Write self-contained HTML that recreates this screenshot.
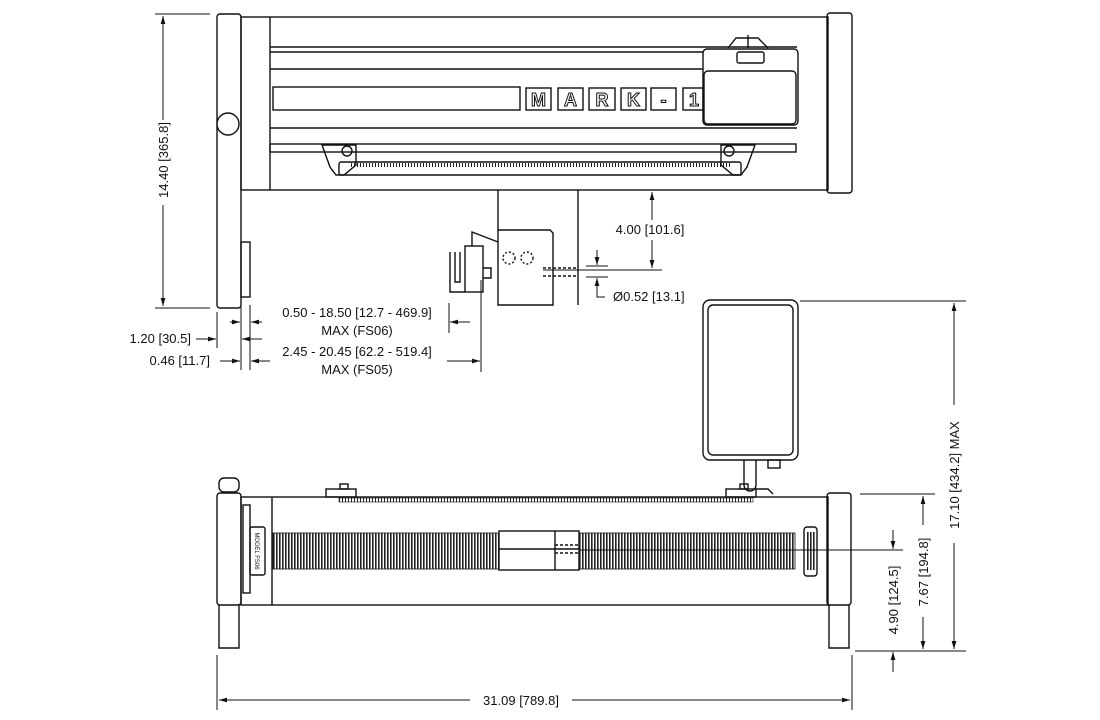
<!DOCTYPE html>
<html><head><meta charset="utf-8"><style>
html,body{margin:0;padding:0;background:#fff}
svg{display:block}
text{font-family:"Liberation Sans",Arial,sans-serif;font-size:13px;fill:#111}
.mk{font-size:18px;font-weight:bold;fill:#fff;stroke:#111;stroke-width:1}
</style></head><body>
<svg width="1100" height="720" viewBox="0 0 1100 720" xmlns="http://www.w3.org/2000/svg">
<defs>
<marker id="a" viewBox="0 0 10 10" refX="10" refY="5" markerWidth="8" markerHeight="8" orient="auto-start-reverse"><path d="M0,2 L10,5 L0,8z" fill="#111"/></marker>
<pattern id="rib" width="3" height="10" patternUnits="userSpaceOnUse"><rect width="3" height="10" fill="#fff"/><rect width="1.6" height="10" fill="#222"/></pattern>
<pattern id="tick" width="3" height="4" patternUnits="userSpaceOnUse"><rect width="1" height="4" fill="#222"/></pattern>
</defs>
<g fill="none" stroke="#111" stroke-width="1.4">
<!-- TOP VIEW -->
<rect x="217" y="14" width="24" height="294" rx="3"/>
<circle cx="228" cy="124" r="11" fill="#fff"/>
<rect x="241" y="242" width="9" height="55"/>
<rect x="241" y="17" width="587" height="173"/>
<line x1="270" y1="17" x2="270" y2="190"/>
<rect x="827" y="13" width="25" height="180" rx="3"/>
<line x1="270" y1="47" x2="797" y2="47"/>
<line x1="270" y1="52" x2="797" y2="52"/>
<line x1="270" y1="69" x2="703" y2="69"/>
<line x1="270" y1="128" x2="797" y2="128"/>
<rect x="273" y="87" width="247" height="23"/>
<rect x="526" y="88" width="25" height="22"/><rect x="558" y="88" width="25" height="22"/><rect x="589" y="88" width="26" height="22"/><rect x="621" y="88" width="25" height="22"/><rect x="651" y="88" width="25" height="22"/><rect x="683" y="88" width="20" height="22"/>
<rect x="270" y="144" width="526" height="8"/>
<rect x="339" y="162" width="402" height="13" rx="2"/>
<rect x="350" y="163" width="380" height="4" fill="url(#tick)" stroke="none"/>
<path d="M322,145 h34 v20 l-12,10 h-8 l-6,-8 z"/><circle cx="347" cy="151" r="5"/>
<path d="M755,145 h-34 v20 l12,10 h8 l6,-8 z"/><circle cx="729" cy="151" r="5"/>
</g>
<g class="mk">
<text class="mk" x="538.5" y="106" text-anchor="middle">M</text>
<text class="mk" x="570.5" y="106" text-anchor="middle">A</text>
<text class="mk" x="602" y="106" text-anchor="middle">R</text>
<text class="mk" x="633.5" y="106" text-anchor="middle">K</text>
<text class="mk" x="663.5" y="106" text-anchor="middle">-</text>
<text class="mk" x="694" y="106" text-anchor="middle">1</text>
</g>
<g fill="none" stroke="#111" stroke-width="1.4">
<rect x="703" y="49" width="95" height="76" rx="4" fill="#fff"/>
<rect x="704" y="71" width="92" height="53" rx="4"/>
<rect x="737" y="52" width="27" height="11" rx="2"/>
<path d="M728,48 l8,-10 h22 l10,10"/><line x1="748" y1="35" x2="748" y2="48"/>
<!-- post & clamp -->
<line x1="498" y1="190" x2="498" y2="230"/><line x1="578" y1="190" x2="578" y2="305"/>
<path d="M498,230 h52 l3,3 v72 h-55 z" fill="#fff"/>
<circle cx="509" cy="258" r="6" stroke-dasharray="2 2"/><circle cx="527" cy="258" r="6" stroke-dasharray="2 2"/>
<line x1="543" y1="268" x2="578" y2="268" stroke-dasharray="3 2"/><line x1="543" y1="276" x2="578" y2="276" stroke-dasharray="3 2"/>
<path d="M450,252 v40 h15 M455,252 v30 h5 v-30"/>
<rect x="465" y="246" width="18" height="46"/>
<path d="M472,246 v-14 l26,10"/><path d="M483,268 h8 v10 h-8"/>
<!-- MONITOR -->
<rect x="703" y="300" width="95" height="160" rx="7"/>
<rect x="708" y="305" width="85" height="150" rx="5"/>
<path d="M744,460 v25 a6,6 0 0 0 12,0 v-25"/><rect x="768" y="460" width="12" height="8"/>
<!-- BOTTOM VIEW -->
<rect x="217" y="493" width="24" height="112" rx="3"/>
<path d="M219,605 v43 h20 v-43"/>
<rect x="219" y="478" width="20" height="14" rx="5"/>
<rect x="241" y="497" width="587" height="108"/>
<line x1="272" y1="497" x2="272" y2="605"/>
<rect x="243" y="505" width="7" height="88"/>
<rect x="250" y="527" width="15" height="48" rx="2"/>
<rect x="827" y="493" width="24" height="112" rx="3"/>
<path d="M829,605 v43 h20 v-43"/>
<rect x="273" y="533" width="522" height="36" fill="url(#rib)" stroke-width="0.8"/>
<rect x="499" y="531" width="80" height="39" fill="#fff"/>
<line x1="499" y1="549" x2="579" y2="549"/>
<line x1="555" y1="531" x2="555" y2="570"/>
<line x1="555" y1="545" x2="580" y2="545" stroke-dasharray="3 2"/><line x1="555" y1="553" x2="580" y2="553" stroke-dasharray="3 2"/>
<rect x="804" y="527" width="13" height="49" rx="3"/>
<rect x="806" y="532" width="9" height="38" fill="url(#rib)" stroke="none"/>
<rect x="339" y="498" width="414" height="4" fill="url(#tick)" stroke-width="0.6"/>
<rect x="326" y="489" width="30" height="8"/><rect x="340" y="484" width="8" height="5"/>
<rect x="726" y="489" width="30" height="8"/><rect x="740" y="484" width="8" height="5"/>
<path d="M756,489 h12 l5,5"/>
</g>
<text transform="translate(255,551) rotate(90)" text-anchor="middle" style="font-size:6px">MODEL FS06</text>
<!-- DIMENSIONS -->
<g fill="none" stroke="#111" stroke-width="1">
<line x1="155" y1="14" x2="210" y2="14"/><line x1="155" y1="308" x2="210" y2="308"/>
<line x1="163" y1="16" x2="163" y2="120" marker-start="url(#a)"/><line x1="163" y1="205" x2="163" y2="306" marker-end="url(#a)"/>
<line x1="543" y1="270" x2="662" y2="270"/><line x1="578" y1="190" x2="660" y2="190"/>
<line x1="652" y1="192" x2="652" y2="220" marker-start="url(#a)"/><line x1="652" y1="240" x2="652" y2="268" marker-end="url(#a)"/>
<line x1="586" y1="266" x2="608" y2="266"/><line x1="586" y1="277" x2="608" y2="277"/>
<line x1="597" y1="250" x2="597" y2="265" marker-end="url(#a)"/><path d="M597,293 v-15" marker-end="url(#a)"/><path d="M597,293 v4 h8"/>
<line x1="217" y1="312" x2="217" y2="348"/><line x1="241" y1="305" x2="241" y2="370"/><line x1="250" y1="305" x2="250" y2="370"/>
<line x1="196" y1="339" x2="216" y2="339" marker-end="url(#a)"/><line x1="262" y1="339" x2="242" y2="339" marker-end="url(#a)"/>
<line x1="230" y1="322" x2="240" y2="322" marker-end="url(#a)"/><line x1="262" y1="322" x2="251" y2="322" marker-end="url(#a)"/>
<line x1="220" y1="361" x2="240" y2="361" marker-end="url(#a)"/><line x1="270" y1="361" x2="251" y2="361" marker-end="url(#a)"/>
<line x1="449" y1="303" x2="449" y2="333"/><line x1="470" y1="322" x2="450" y2="322" marker-end="url(#a)"/>
<line x1="481" y1="280" x2="481" y2="372"/><line x1="447" y1="361" x2="480" y2="361" marker-end="url(#a)"/>
<line x1="800" y1="301" x2="966" y2="301"/><line x1="855" y1="651" x2="966" y2="651"/><line x1="860" y1="494" x2="935" y2="494"/>
<line x1="580" y1="550" x2="903" y2="550"/>
<line x1="954" y1="303" x2="954" y2="405" marker-start="url(#a)"/><line x1="954" y1="543" x2="954" y2="649" marker-end="url(#a)"/>
<line x1="923" y1="496" x2="923" y2="525" marker-start="url(#a)"/><line x1="923" y1="617" x2="923" y2="649" marker-end="url(#a)"/>
<line x1="893" y1="530" x2="893" y2="549" marker-end="url(#a)"/><line x1="893" y1="672" x2="893" y2="652" marker-end="url(#a)"/>
<line x1="217" y1="655" x2="217" y2="710"/><line x1="852" y1="655" x2="852" y2="710"/>
<line x1="219" y1="700" x2="470" y2="700" marker-start="url(#a)"/><line x1="572" y1="700" x2="850" y2="700" marker-end="url(#a)"/>
</g>
<text transform="translate(168,160) rotate(-90)" text-anchor="middle">14.40 [365.8]</text>
<text x="650" y="234" text-anchor="middle">4.00 [101.6]</text>
<text x="613" y="301">Ø0.52 [13.1]</text>
<text x="357" y="317" text-anchor="middle">0.50 - 18.50 [12.7 - 469.9]</text>
<text x="357" y="335" text-anchor="middle">MAX (FS06)</text>
<text x="357" y="356" text-anchor="middle">2.45 - 20.45 [62.2 - 519.4]</text>
<text x="357" y="374" text-anchor="middle">MAX (FS05)</text>
<text x="191" y="343" text-anchor="end">1.20 [30.5]</text>
<text x="210" y="365" text-anchor="end">0.46 [11.7]</text>
<text transform="translate(959,475) rotate(-90)" text-anchor="middle">17.10 [434.2] MAX</text>
<text transform="translate(928,572) rotate(-90)" text-anchor="middle">7.67 [194.8]</text>
<text transform="translate(898,600) rotate(-90)" text-anchor="middle">4.90 [124.5]</text>
<text x="521" y="705" text-anchor="middle">31.09 [789.8]</text>
</svg>
</body></html>
